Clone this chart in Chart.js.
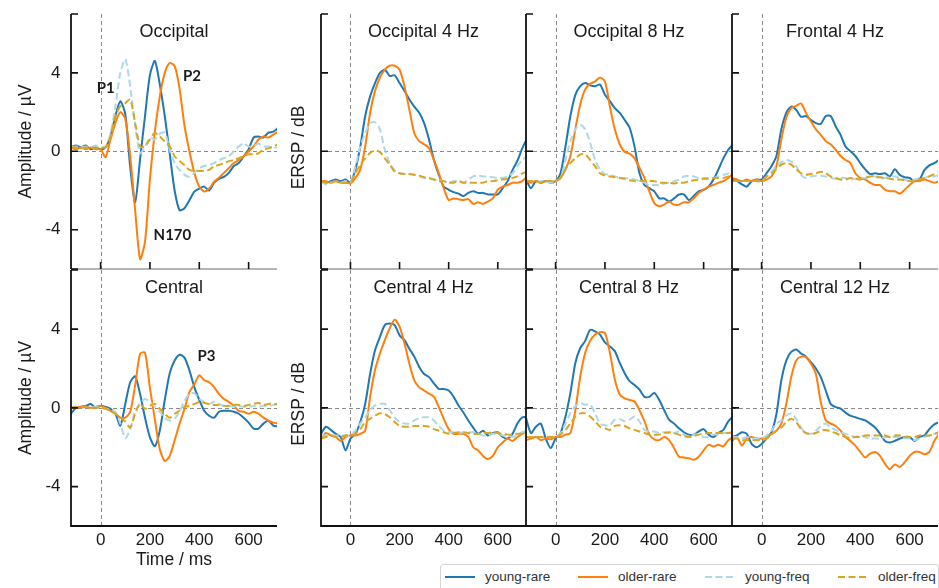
<!DOCTYPE html>
<html>
<head>
<meta charset="utf-8">
<title>ERP / ERSP</title>
<script src="https://cdn.jsdelivr.net/npm/chart.js@4.4.1/dist/chart.umd.min.js"></script>
<style>
  html, body { margin: 0; padding: 0; background: #fff; }
  #fig { position: relative; width: 939px; height: 588px; overflow: hidden; background: #fff; }
  #fig canvas { position: absolute; }
  .legend { position: absolute; left: 440px; top: 564px; width: 499px; height: 34px; box-sizing: border-box;
            border: 1px solid #d4d4d4; border-radius: 3px; font: 13.5px "Liberation Sans", Arial, sans-serif; color: #333; }
  .legend .item { position: absolute; top: 3px; height: 18px; line-height: 18px; display: flex; align-items: center; white-space: nowrap; }
  .legend svg { margin-right: 10px; }
</style>
</head>
<body>
<div id="fig">
  <div class="legend">
    <div class="item" style="left:4px"><svg width="30" height="4"><line x1="0" y1="2" x2="30" y2="2" stroke="#1f77b4" stroke-width="2"/></svg><span>young-rare</span></div>
    <div class="item" style="left:137px"><svg width="30" height="4"><line x1="0" y1="2" x2="30" y2="2" stroke="#ff7f0e" stroke-width="2"/></svg><span>older-rare</span></div>
    <div class="item" style="left:264px"><svg width="30" height="4"><line x1="0" y1="2" x2="30" y2="2" stroke="#add8e6" stroke-width="2" stroke-dasharray="7 3.5"/></svg><span>young-freq</span></div>
    <div class="item" style="left:397px"><svg width="30" height="4"><line x1="0" y1="2" x2="30" y2="2" stroke="#daa520" stroke-width="2" stroke-dasharray="7 3.5"/></svg><span>older-freq</span></div>
  </div>
</div>
<script>
// time axis (ms), sampled every 20 ms
const times = [-120, -100, -80, -60, -40, -20, 0, 20, 40, 60, 80, 100, 120, 140, 160, 180, 200, 220, 240, 260, 280, 300, 320, 340, 360, 380, 400, 420, 440, 460, 480, 500, 520, 540, 560, 580, 600, 620, 640, 660, 680, 700, 720];
const timeTicks = [0, 200, 400, 600];
const erpTicks = [-4, 0, 4];
const erspTicks = [-1, 0, 1];

// ERP amplitude (µV)
const occYoungRare = [0.2, 0.3, 0.2, 0.3, 0.1, 0.2, 0.1, 0.2, 0.75, 1.8, 2.55, 1.9, -0.8, -2.6, -0.4, 1.8, 3.9, 4.6, 3.4, 1.8, -0.1, -2.0, -3.0, -2.9, -2.5, -2.05, -1.9, -1.8, -2.0, -1.6, -1.4, -1.3, -1.1, -0.75, -0.6, -0.25, 0.1, 0.7, 0.75, 0.7, 0.95, 1.0, 1.2];
const occOlderRare = [0.2, 0.1, 0.2, 0.1, 0.2, 0.1, 0.1, -0.3, 0.6, 1.45, 2.0, 1.65, -0.25, -3.0, -5.5, -4.6, -1.4, 1.0, 2.8, 4.0, 4.5, 4.35, 3.2, 1.3, 0.0, -1.1, -1.8, -2.05, -1.9, -1.55, -1.35, -1.1, -0.85, -0.6, -0.45, -0.25, 0.0, 0.25, 0.6, 0.75, 0.7, 0.85, 1.0];
const occYoungFreq = [0.2, 0.25, 0.2, 0.25, 0.2, 0.3, 0.2, 0.25, 0.9, 2.3, 4.0, 4.7, 3.3, 1.3, -0.1, 0.25, 0.7, 0.6, 0.9, 0.95, 0.1, -0.6, -0.95, -1.2, -1.3, -1.1, -0.85, -0.75, -0.7, -0.6, -0.45, -0.35, -0.25, 0.0, 0.25, 0.4, 0.25, 0.25, 0.4, 0.25, 0.25, 0.2, 0.2];
const occOlderFreq = [0.2, 0.2, 0.15, 0.2, 0.2, 0.15, 0.2, 0.2, 0.75, 1.8, 2.3, 2.45, 2.65, 1.45, 0.25, 0.25, 0.6, 0.95, 0.75, 0.5, 0.25, -0.25, -0.5, -0.7, -0.95, -1.0, -1.0, -1.0, -0.95, -0.75, -0.7, -0.6, -0.5, -0.45, -0.35, -0.25, -0.15, -0.15, -0.1, 0.1, 0.15, 0.25, 0.35];
const cenYoungRare = [-0.3, 0.0, 0.05, 0.1, 0.2, 0.0, 0.1, 0.05, -0.05, -0.3, -0.9, 0.2, 1.3, 1.6, 0.7, -0.5, -1.5, -1.95, -1.15, 0.4, 1.75, 2.4, 2.7, 2.55, 1.9, 1.05, 0.4, -0.15, -0.4, -0.5, -0.2, -0.15, -0.15, -0.2, -0.3, -0.5, -0.75, -1.05, -1.05, -0.8, -0.65, -0.9, -0.95];
const cenOlderRare = [0.05, 0.0, 0.05, 0.05, 0.0, 0.05, 0.1, 0.0, -0.15, -0.3, -0.5, -0.5, -0.2, 1.15, 2.75, 2.8, 1.0, -0.6, -2.1, -2.7, -2.45, -1.65, -0.8, -0.05, 0.8, 1.2, 1.65, 1.4, 1.3, 1.05, 0.7, 0.45, 0.3, 0.1, -0.15, -0.2, -0.3, -0.2, -0.3, -0.5, -0.65, -0.75, -0.8];
const cenYoungFreq = [0.05, 0.05, 0.0, 0.05, 0.0, 0.05, 0.0, -0.05, -0.1, -0.2, -0.8, -1.55, -1.1, -0.15, 0.2, 0.45, 0.3, 0.05, -0.2, -0.5, -0.65, -0.55, -0.2, 0.35, 0.7, 0.75, 0.45, 0.3, 0.2, 0.3, 0.2, 0.1, 0.1, 0.05, 0.1, 0.05, 0.05, 0.1, 0.05, 0.1, 0.1, 0.15, 0.15];
const cenOlderFreq = [0.0, 0.05, 0.0, 0.05, 0.0, 0.0, 0.0, -0.05, -0.15, -0.3, -0.5, -0.7, -1.0, -0.3, 0.2, -0.05, 0.1, 0.2, -0.05, -0.3, -0.5, -0.3, -0.15, 0.05, 0.1, 0.2, 0.3, 0.25, 0.2, 0.15, 0.15, 0.1, 0.1, 0.15, 0.15, 0.1, 0.15, 0.2, 0.25, 0.15, 0.2, 0.2, 0.2];

// ERSP (dB)
const occ4YoungRare = [-0.38, -0.4, -0.38, -0.36, -0.38, -0.36, -0.4, -0.23, 0.06, 0.45, 0.7, 0.87, 1.0, 1.04, 0.96, 0.97, 0.87, 0.77, 0.66, 0.57, 0.49, 0.36, 0.15, -0.11, -0.3, -0.45, -0.49, -0.52, -0.54, -0.57, -0.53, -0.51, -0.53, -0.53, -0.55, -0.55, -0.55, -0.47, -0.38, -0.24, -0.12, 0.04, 0.17];
const occ4OlderRare = [-0.38, -0.38, -0.4, -0.38, -0.4, -0.4, -0.41, -0.34, -0.23, 0.06, 0.49, 0.77, 0.94, 1.04, 1.09, 1.09, 1.04, 0.83, 0.53, 0.23, 0.13, 0.09, 0.04, -0.11, -0.28, -0.47, -0.62, -0.6, -0.61, -0.62, -0.61, -0.67, -0.65, -0.67, -0.64, -0.6, -0.49, -0.45, -0.43, -0.4, -0.4, -0.38, -0.32];
const occ4YoungFreq = [-0.38, -0.42, -0.4, -0.38, -0.4, -0.38, -0.4, -0.19, 0.06, 0.23, 0.36, 0.37, 0.28, 0.02, -0.15, -0.24, -0.28, -0.29, -0.29, -0.3, -0.32, -0.34, -0.35, -0.36, -0.37, -0.38, -0.4, -0.38, -0.38, -0.4, -0.36, -0.32, -0.31, -0.32, -0.32, -0.33, -0.34, -0.34, -0.32, -0.28, -0.19, -0.11, -0.06];
const occ4OlderFreq = [-0.38, -0.4, -0.4, -0.38, -0.4, -0.4, -0.4, -0.28, -0.17, -0.09, -0.02, 0.01, -0.01, -0.09, -0.17, -0.26, -0.28, -0.29, -0.29, -0.3, -0.31, -0.33, -0.34, -0.36, -0.38, -0.38, -0.4, -0.4, -0.38, -0.4, -0.4, -0.4, -0.4, -0.4, -0.38, -0.38, -0.37, -0.36, -0.35, -0.34, -0.32, -0.28, -0.26];
const occ8YoungRare = [-0.36, -0.47, -0.38, -0.4, -0.38, -0.4, -0.38, -0.28, 0.06, 0.45, 0.72, 0.83, 0.87, 0.84, 0.83, 0.85, 0.72, 0.64, 0.55, 0.49, 0.4, 0.3, 0.06, -0.28, -0.43, -0.47, -0.51, -0.6, -0.6, -0.64, -0.6, -0.55, -0.55, -0.62, -0.57, -0.51, -0.49, -0.45, -0.36, -0.23, -0.09, 0.02, 0.09];
const occ8OlderRare = [-0.38, -0.4, -0.38, -0.4, -0.38, -0.4, -0.38, -0.34, -0.23, -0.06, 0.28, 0.6, 0.79, 0.86, 0.89, 0.94, 0.89, 0.57, 0.28, 0.09, -0.01, -0.03, -0.09, -0.21, -0.34, -0.51, -0.66, -0.7, -0.68, -0.64, -0.68, -0.68, -0.65, -0.65, -0.6, -0.53, -0.49, -0.45, -0.43, -0.4, -0.38, -0.34, -0.28];
const occ8YoungFreq = [-0.38, -0.38, -0.4, -0.38, -0.38, -0.4, -0.38, -0.34, -0.11, 0.13, 0.28, 0.34, 0.28, 0.11, -0.11, -0.23, -0.29, -0.3, -0.32, -0.34, -0.34, -0.35, -0.36, -0.38, -0.4, -0.43, -0.43, -0.43, -0.41, -0.4, -0.38, -0.36, -0.32, -0.31, -0.32, -0.34, -0.34, -0.34, -0.34, -0.32, -0.3, -0.28, -0.23];
const occ8OlderFreq = [-0.38, -0.38, -0.38, -0.4, -0.38, -0.38, -0.38, -0.34, -0.23, -0.15, -0.09, -0.04, -0.04, -0.11, -0.19, -0.28, -0.31, -0.32, -0.33, -0.34, -0.35, -0.37, -0.38, -0.38, -0.38, -0.38, -0.38, -0.4, -0.4, -0.4, -0.41, -0.4, -0.4, -0.38, -0.37, -0.36, -0.35, -0.35, -0.34, -0.34, -0.34, -0.32, -0.3];
const fr4YoungRare = [-0.36, -0.38, -0.42, -0.45, -0.38, -0.36, -0.36, -0.28, -0.19, -0.06, 0.28, 0.49, 0.57, 0.53, 0.44, 0.45, 0.4, 0.36, 0.35, 0.45, 0.45, 0.32, 0.21, 0.06, 0.0, -0.06, -0.15, -0.23, -0.29, -0.28, -0.29, -0.28, -0.32, -0.23, -0.3, -0.33, -0.34, -0.38, -0.36, -0.24, -0.18, -0.15, -0.11];
const fr4OlderRare = [-0.34, -0.36, -0.38, -0.36, -0.38, -0.36, -0.38, -0.36, -0.32, -0.19, 0.15, 0.43, 0.55, 0.58, 0.61, 0.49, 0.38, 0.28, 0.21, 0.13, 0.09, 0.02, -0.06, -0.11, -0.15, -0.28, -0.34, -0.36, -0.4, -0.43, -0.43, -0.49, -0.51, -0.51, -0.54, -0.49, -0.43, -0.38, -0.38, -0.36, -0.38, -0.4, -0.38];
const fr4YoungFreq = [-0.38, -0.38, -0.38, -0.38, -0.38, -0.38, -0.38, -0.32, -0.26, -0.19, -0.14, -0.11, -0.13, -0.19, -0.3, -0.34, -0.32, -0.31, -0.31, -0.32, -0.34, -0.35, -0.34, -0.34, -0.36, -0.35, -0.34, -0.34, -0.32, -0.32, -0.35, -0.34, -0.32, -0.32, -0.34, -0.36, -0.38, -0.36, -0.34, -0.34, -0.32, -0.32, -0.3];
const fr4OlderFreq = [-0.38, -0.38, -0.38, -0.38, -0.38, -0.38, -0.38, -0.32, -0.28, -0.23, -0.17, -0.15, -0.17, -0.23, -0.28, -0.3, -0.29, -0.28, -0.26, -0.28, -0.32, -0.34, -0.36, -0.36, -0.34, -0.35, -0.36, -0.34, -0.32, -0.32, -0.33, -0.34, -0.35, -0.36, -0.36, -0.37, -0.38, -0.38, -0.36, -0.34, -0.32, -0.29, -0.26];
const cen4YoungRare = [-0.33, -0.24, -0.28, -0.33, -0.37, -0.54, -0.39, -0.33, -0.18, 0.05, 0.43, 0.73, 0.9, 1.05, 1.07, 1.05, 0.92, 0.86, 0.75, 0.65, 0.52, 0.43, 0.39, 0.31, 0.24, 0.24, 0.22, 0.14, 0.03, -0.06, -0.16, -0.25, -0.33, -0.29, -0.35, -0.32, -0.31, -0.37, -0.39, -0.33, -0.2, -0.12, -0.12];
const cen4OlderRare = [-0.39, -0.32, -0.35, -0.37, -0.42, -0.37, -0.35, -0.35, -0.33, -0.29, 0.14, 0.48, 0.69, 0.86, 1.01, 1.12, 1.03, 0.82, 0.56, 0.35, 0.26, 0.22, 0.18, 0.14, 0.01, -0.14, -0.27, -0.33, -0.33, -0.33, -0.37, -0.5, -0.54, -0.61, -0.65, -0.61, -0.5, -0.44, -0.39, -0.42, -0.37, -0.33, -0.29];
const cen4YoungFreq = [-0.35, -0.35, -0.35, -0.35, -0.35, -0.35, -0.35, -0.29, -0.2, -0.12, -0.03, 0.03, 0.05, 0.05, -0.03, -0.12, -0.18, -0.2, -0.2, -0.16, -0.13, -0.12, -0.12, -0.16, -0.23, -0.29, -0.31, -0.31, -0.32, -0.31, -0.31, -0.31, -0.33, -0.35, -0.35, -0.33, -0.32, -0.35, -0.35, -0.37, -0.35, -0.31, -0.29];
const cen4OlderFreq = [-0.39, -0.37, -0.35, -0.37, -0.37, -0.35, -0.35, -0.33, -0.27, -0.18, -0.14, -0.1, -0.07, -0.08, -0.12, -0.18, -0.23, -0.24, -0.24, -0.23, -0.23, -0.23, -0.24, -0.27, -0.29, -0.31, -0.33, -0.32, -0.31, -0.31, -0.32, -0.33, -0.33, -0.32, -0.32, -0.31, -0.32, -0.33, -0.34, -0.34, -0.33, -0.33, -0.33];
const cen8YoungRare = [-0.13, -0.32, -0.24, -0.2, -0.39, -0.51, -0.39, -0.32, -0.11, 0.19, 0.57, 0.76, 0.85, 0.99, 0.97, 0.93, 0.83, 0.78, 0.72, 0.57, 0.44, 0.34, 0.29, 0.23, 0.14, 0.14, 0.19, 0.1, -0.03, -0.15, -0.2, -0.26, -0.31, -0.34, -0.34, -0.3, -0.27, -0.34, -0.37, -0.32, -0.28, -0.17, -0.11];
const cen8OlderRare = [-0.41, -0.39, -0.37, -0.41, -0.39, -0.4, -0.37, -0.37, -0.34, -0.32, -0.03, 0.4, 0.7, 0.85, 0.93, 0.96, 0.95, 0.7, 0.36, 0.17, 0.12, 0.1, 0.08, -0.03, -0.17, -0.34, -0.4, -0.41, -0.37, -0.41, -0.51, -0.62, -0.63, -0.64, -0.66, -0.62, -0.54, -0.47, -0.49, -0.47, -0.49, -0.41, -0.37];
const cen8YoungFreq = [-0.37, -0.37, -0.37, -0.37, -0.37, -0.37, -0.37, -0.32, -0.2, -0.07, 0.02, 0.06, 0.04, 0.04, -0.07, -0.2, -0.22, -0.22, -0.15, -0.14, -0.17, -0.15, -0.11, -0.17, -0.28, -0.3, -0.3, -0.32, -0.31, -0.32, -0.32, -0.3, -0.34, -0.37, -0.34, -0.34, -0.37, -0.37, -0.34, -0.34, -0.32, -0.32, -0.3];
const cen8OlderFreq = [-0.37, -0.37, -0.37, -0.37, -0.37, -0.37, -0.37, -0.34, -0.28, -0.2, -0.11, -0.07, -0.07, -0.11, -0.17, -0.24, -0.26, -0.28, -0.23, -0.22, -0.23, -0.26, -0.28, -0.3, -0.32, -0.34, -0.34, -0.34, -0.32, -0.31, -0.32, -0.34, -0.36, -0.37, -0.36, -0.34, -0.33, -0.32, -0.32, -0.32, -0.32, -0.32, -0.31];
const cen12YoungRare = [-0.37, -0.35, -0.31, -0.33, -0.46, -0.5, -0.46, -0.39, -0.31, -0.08, 0.35, 0.6, 0.71, 0.74, 0.69, 0.65, 0.58, 0.5, 0.39, 0.22, 0.05, 0.01, -0.01, -0.06, -0.1, -0.12, -0.14, -0.16, -0.2, -0.25, -0.33, -0.42, -0.44, -0.42, -0.39, -0.37, -0.37, -0.42, -0.37, -0.35, -0.27, -0.21, -0.18];
const cen12OlderRare = [-0.42, -0.37, -0.48, -0.39, -0.37, -0.39, -0.39, -0.37, -0.33, -0.29, -0.2, 0.05, 0.39, 0.6, 0.65, 0.64, 0.56, 0.43, 0.07, -0.16, -0.2, -0.23, -0.29, -0.37, -0.42, -0.48, -0.56, -0.63, -0.58, -0.56, -0.61, -0.71, -0.78, -0.72, -0.75, -0.69, -0.61, -0.56, -0.56, -0.59, -0.56, -0.42, -0.33];
const cen12YoungFreq = [-0.37, -0.37, -0.39, -0.37, -0.39, -0.39, -0.39, -0.35, -0.29, -0.2, -0.16, -0.1, -0.07, -0.14, -0.25, -0.32, -0.33, -0.29, -0.23, -0.2, -0.25, -0.28, -0.31, -0.33, -0.35, -0.37, -0.35, -0.37, -0.39, -0.39, -0.39, -0.37, -0.37, -0.37, -0.37, -0.38, -0.39, -0.41, -0.39, -0.37, -0.35, -0.33, -0.31];
const cen12OlderFreq = [-0.39, -0.39, -0.41, -0.41, -0.41, -0.41, -0.41, -0.39, -0.34, -0.29, -0.25, -0.18, -0.14, -0.18, -0.27, -0.32, -0.33, -0.32, -0.29, -0.28, -0.3, -0.32, -0.35, -0.37, -0.38, -0.37, -0.37, -0.35, -0.35, -0.35, -0.35, -0.35, -0.37, -0.35, -0.35, -0.37, -0.37, -0.37, -0.35, -0.35, -0.35, -0.33, -0.31];

// component labels (time ms, amplitude µV)
const occPeakLabels = ['P1', 'P2', 'N170'];
const occPeakTimes = [21, 370, 291];
const occPeakAmps = [3.2, 3.84, -4.27];
const cenPeakLabels = ['P3'];
const cenPeakTimes = [429];
const cenPeakAmps = [2.63];

const seriesLabels = ['young-rare', 'older-rare', 'young-freq', 'older-freq'];
const seriesColors = ['#1f77b4', '#ff7f0e', '#add8e6', '#daa520'];
const seriesDash = [[], [], [7, 3.5], [7, 3.5]];

const FONT = '"Liberation Sans", Arial, sans-serif';
const TXT = '#1a1a1a';

// panel geometry
const colLeft = [71, 321, 526, 732];
const colRight = [277, 526, 732, 938];
const colMarginL = [71, 41, 10, 10];
const colMarginR = [2, 2, 2, 1];
const rowTop = [14, 270];
const rowBottom = [269, 526];
const rowMarginT = [14, 14];

const panels = [
  {title: 'Occipital', row: 0, col: 0, erp: true, series: [occYoungRare, occOlderRare, occYoungFreq, occOlderFreq],
   notes: {labels: occPeakLabels, t: occPeakTimes, v: occPeakAmps}},
  {title: 'Central', row: 1, col: 0, erp: true, series: [cenYoungRare, cenOlderRare, cenYoungFreq, cenOlderFreq],
   notes: {labels: cenPeakLabels, t: cenPeakTimes, v: cenPeakAmps}},
  {title: 'Occipital 4 Hz', row: 0, col: 1, series: [occ4YoungRare, occ4OlderRare, occ4YoungFreq, occ4OlderFreq]},
  {title: 'Occipital 8 Hz', row: 0, col: 2, series: [occ8YoungRare, occ8OlderRare, occ8YoungFreq, occ8OlderFreq]},
  {title: 'Frontal 4 Hz', row: 0, col: 3, series: [fr4YoungRare, fr4OlderRare, fr4YoungFreq, fr4OlderFreq]},
  {title: 'Central 4 Hz', row: 1, col: 1, series: [cen4YoungRare, cen4OlderRare, cen4YoungFreq, cen4OlderFreq]},
  {title: 'Central 8 Hz', row: 1, col: 2, series: [cen8YoungRare, cen8OlderRare, cen8YoungFreq, cen8OlderFreq]},
  {title: 'Central 12 Hz', row: 1, col: 3, series: [cen12YoungRare, cen12OlderRare, cen12YoungFreq, cen12OlderFreq]}
];

// spines, inward ticks, dashed zero lines, in-axes titles and peak labels
const panelDecor = {
  id: 'panelDecor',
  beforeDatasetsDraw(chart, args, opts) {
    const {ctx, chartArea: a, scales: {x, y}} = chart;
    const x0 = Math.round(x.getPixelForValue(0)) + 0.5;
    const y0 = Math.round(y.getPixelForValue(0)) + 0.5;
    ctx.save();
    ctx.strokeStyle = '#8a8a8a';
    ctx.lineWidth = 1;
    ctx.setLineDash([4, 3]);
    ctx.beginPath();
    ctx.moveTo(x0, a.top);
    ctx.lineTo(x0, a.bottom);
    ctx.moveTo(a.left, y0);
    ctx.lineTo(a.right, y0);
    ctx.stroke();
    ctx.restore();
  },
  afterDraw(chart, args, opts) {
    const {ctx, chartArea: a, scales: {x, y}} = chart;
    ctx.save();
    // bottom spine
    if (opts.lastRow) {
      ctx.strokeStyle = '#111';
      ctx.lineWidth = 2;
    } else {
      ctx.strokeStyle = '#6a6a6a';
      ctx.lineWidth = 1;
    }
    ctx.beginPath();
    ctx.moveTo(a.left, a.bottom);
    ctx.lineTo(a.right, a.bottom);
    ctx.stroke();
    // left spine
    ctx.strokeStyle = '#111';
    ctx.lineWidth = 1.8;
    ctx.beginPath();
    ctx.moveTo(a.left, a.top);
    ctx.lineTo(a.left, a.bottom + (opts.lastRow ? 1 : 0));
    ctx.stroke();
    // inward ticks
    ctx.lineWidth = 1.6;
    ctx.beginPath();
    [y.min].concat(opts.yTicks, [y.max]).forEach(v => {
      const py = y.getPixelForValue(v);
      ctx.moveTo(a.left, py);
      ctx.lineTo(a.left + 7, py);
    });
    if (!opts.lastRow) {
      timeTicks.forEach(t => {
        const px = x.getPixelForValue(t);
        ctx.moveTo(px, a.bottom);
        ctx.lineTo(px, a.bottom - 7);
      });
    }
    ctx.stroke();
    ctx.fillStyle = TXT;
    ctx.textAlign = 'center';
    ctx.textBaseline = 'middle';
    // ERSP axis label, sits a little below the panel centre like the original
    if (opts.ylabel) {
      ctx.save();
      ctx.font = '17.5px ' + FONT;
      ctx.translate(a.left - 22, (a.top + a.bottom) / 2 + 6);
      ctx.rotate(-Math.PI / 2);
      ctx.fillText(opts.ylabel, 0, 0);
      ctx.restore();
    }
    // title inside the axes
    ctx.font = '18px ' + FONT;
    ctx.fillText(opts.title, (a.left + a.right) / 2, a.top + 18);
    // peak labels
    if (opts.notes) {
      ctx.font = 'bold 15px Lato, "Open Sans", sans-serif';
      opts.notes.labels.forEach((lab, i) => {
        ctx.fillText(lab, x.getPixelForValue(opts.notes.t[i]), y.getPixelForValue(opts.notes.v[i]));
      });
    }
    ctx.restore();
  }
};

const fig = document.getElementById('fig');

panels.forEach(p => {
  const lastRow = p.row === 1;
  const L = colMarginL[p.col], R = colMarginR[p.col];
  const T = rowMarginT[p.row];
  const B = lastRow ? (p.erp ? 46 : 30) : 6;
  const left = colLeft[p.col] - L;
  const top = rowTop[p.row] - T;
  const w = L + (colRight[p.col] - colLeft[p.col]) + R;
  const h = T + (rowBottom[p.row] - rowTop[p.row]) + B;

  const canvas = document.createElement('canvas');
  canvas.width = w;
  canvas.height = h;
  canvas.style.left = left + 'px';
  canvas.style.top = top + 'px';
  canvas.style.width = w + 'px';
  canvas.style.height = h + 'px';
  fig.appendChild(canvas);

  const yTicks = p.erp ? erpTicks : erspTicks;
  const datasets = p.series.map((vals, i) => ({
    label: seriesLabels[i],
    data: times.map((t, k) => ({x: t, y: vals[k]})),
    borderColor: seriesColors[i],
    borderDash: seriesDash[i],
    borderWidth: 2,
    pointRadius: 0,
    tension: 0.25,
    fill: false,
    order: 3 - i
  }));

  const yTitle = p.col === 0
    ? {display: true, text: 'Amplitude / µV', color: TXT, font: {family: FONT, size: 17.5}, padding: {top: 15.5, bottom: 0}}
    : {display: false};

  new Chart(canvas.getContext('2d'), {
    type: 'line',
    data: {datasets: datasets},
    options: {
      responsive: false,
      animation: false,
      events: [],
      layout: {padding: {left: 0, right: R, top: T, bottom: 0}},
      plugins: {
        legend: {display: false},
        tooltip: {enabled: false},
        panelDecor: {
          title: p.title,
          lastRow: lastRow,
          yTicks: yTicks,
          notes: p.notes || null,
          ylabel: p.col === 1 ? 'ERSP / dB' : null
        }
      },
      scales: {
        x: {
          type: 'linear',
          min: -120,
          max: 715,
          grid: {display: false, drawTicks: false},
          border: {display: false},
          ticks: {
            display: lastRow,
            padding: 4,
            color: TXT,
            font: {family: FONT, size: 17},
            autoSkip: false,
            maxRotation: 0,
            callback: v => String(v)
          },
          title: (lastRow && p.erp)
            ? {display: true, text: 'Time / ms', color: TXT, font: {family: FONT, size: 17.5}, padding: {top: 0, bottom: 1.5}}
            : {display: false},
          afterBuildTicks: s => { s.ticks = timeTicks.map(v => ({value: v})); },
          afterFit: s => { s.height = B; s.paddingLeft = 0; s.paddingRight = 0; }
        },
        y: {
          type: 'linear',
          min: p.erp ? -6 : -1.5,
          max: p.erp ? 7 : 1.75,
          grid: {display: false, drawTicks: false},
          border: {display: false},
          ticks: {
            display: !!p.erp,
            padding: 10.5,
            color: TXT,
            font: {family: FONT, size: 17},
            callback: v => String(v)
          },
          title: yTitle,
          afterBuildTicks: s => { s.ticks = yTicks.map(v => ({value: v})); },
          afterFit: s => { s.width = L; s.paddingTop = 0; s.paddingBottom = 0; }
        }
      }
    },
    plugins: [panelDecor]
  });
});
</script>
</body>
</html>
